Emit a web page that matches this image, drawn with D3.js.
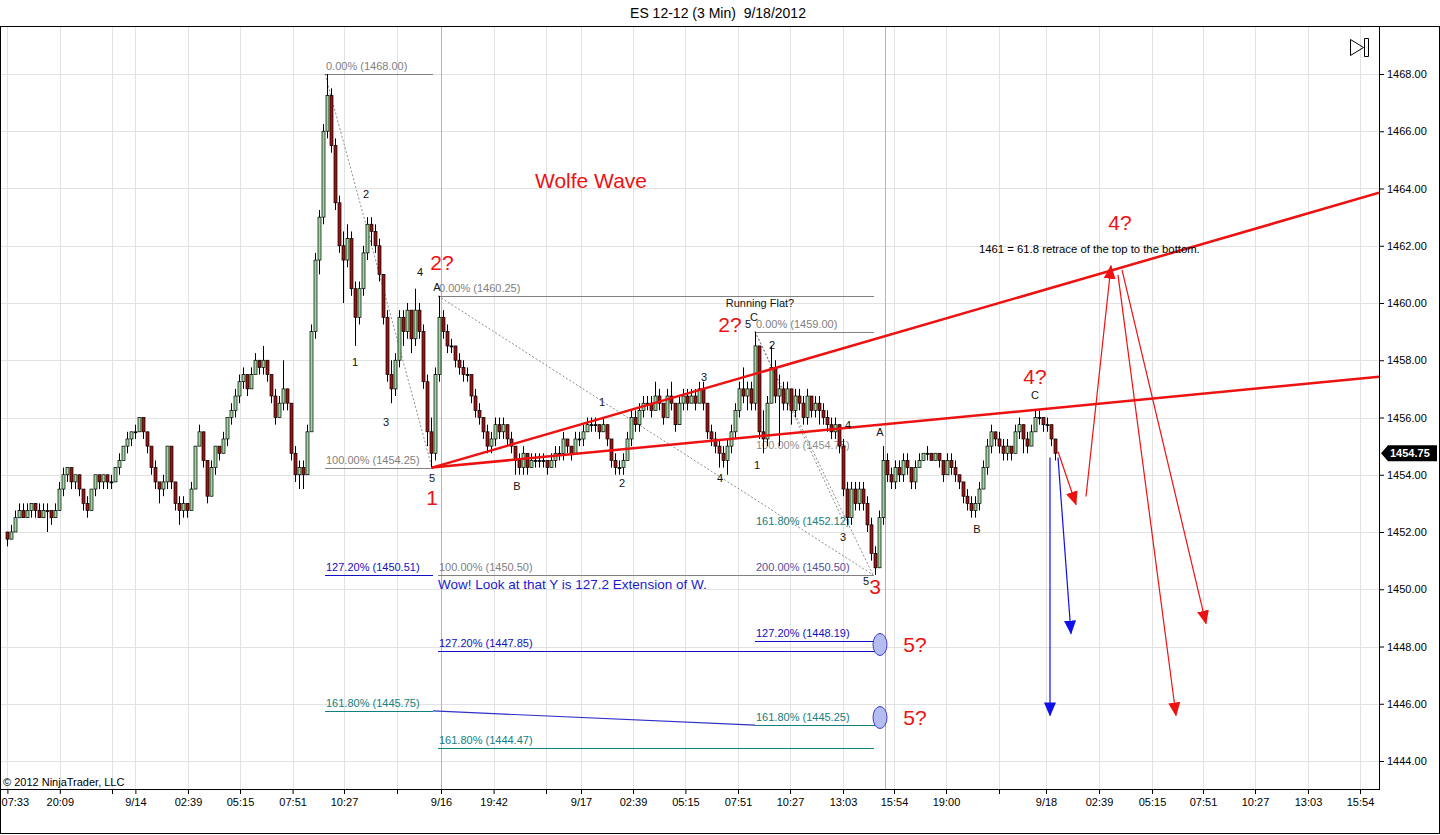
<!DOCTYPE html>
<html>
<head>
<meta charset="utf-8">
<title>ES 12-12 (3 Min) 9/18/2012</title>
<script src="https://cdn.jsdelivr.net/npm/d3@7"></script>
<style>
body { margin: 0; background: #fff; }
svg { display: block; font-family: "Liberation Sans", Arial, sans-serif; }
.axis path.domain { display: none; }
.axis text { font-size: 11px; fill: #000; }
.axis line { stroke: #000; }
</style>
</head>
<body>
<svg width="1440" height="835"></svg>
<script>
// 3 min bars, [open, high, low, close]
var bars = [
 [1452.0,1452.0,1451.5,1451.75],[1451.75,1452.25,1451.75,1452.0],[1452.0,1452.75,1452.0,1452.5],[1452.5,1453.0,1452.5,1452.75],
 [1452.75,1453.0,1452.5,1452.5],[1452.5,1453.0,1452.5,1452.75],[1452.75,1453.0,1452.5,1453.0],[1453.0,1453.0,1452.5,1452.75],
 [1452.75,1453.0,1452.5,1452.5],[1452.5,1453.0,1452.5,1452.75],[1452.75,1453.0,1452.0,1452.75],[1452.75,1452.75,1452.25,1452.5],
 [1452.5,1453.0,1452.5,1452.75],[1452.75,1453.75,1452.75,1453.5],[1453.5,1454.25,1453.25,1454.0],[1454.0,1454.25,1453.75,1454.25],
 [1454.25,1454.25,1453.5,1453.75],[1453.75,1454.0,1453.5,1454.0],[1454.0,1454.0,1453.25,1453.5],[1453.5,1453.5,1452.75,1453.0],
 [1453.0,1453.25,1452.5,1452.75],[1452.75,1453.5,1452.75,1453.5],[1453.5,1454.0,1453.25,1454.0],[1454.0,1454.0,1453.5,1453.75],
 [1453.75,1454.0,1453.5,1454.0],[1454.0,1454.0,1453.5,1453.75],[1453.75,1454.0,1453.5,1453.75],[1453.75,1454.25,1453.75,1454.25],
 [1454.25,1454.75,1454.0,1454.5],[1454.5,1455.0,1454.5,1455.0],[1455.0,1455.5,1454.75,1455.25],[1455.25,1455.5,1455.0,1455.5],
 [1455.5,1455.75,1455.25,1455.5],[1455.5,1456.0,1455.5,1456.0],[1456.0,1456.0,1455.25,1455.5],[1455.5,1455.5,1454.75,1455.0],
 [1455.0,1455.0,1454.0,1454.25],[1454.25,1454.5,1453.5,1453.75],[1453.75,1453.75,1453.0,1453.5],[1453.5,1454.0,1453.25,1453.75],
 [1453.75,1455.0,1453.5,1455.0],[1455.0,1455.0,1453.5,1453.75],[1453.75,1453.75,1452.75,1453.0],[1453.0,1453.25,1452.25,1452.75],
 [1452.75,1453.25,1452.5,1453.0],[1453.0,1453.0,1452.5,1452.75],[1452.75,1453.75,1452.75,1453.5],[1453.5,1455.0,1453.5,1455.0],
 [1455.0,1455.75,1455.0,1455.5],[1455.5,1455.5,1454.25,1454.5],[1454.5,1454.5,1453.0,1453.25],[1453.25,1454.5,1453.25,1454.25],
 [1454.25,1455.0,1454.0,1455.0],[1455.0,1455.0,1454.5,1454.75],[1454.75,1455.5,1454.75,1455.25],[1455.25,1456.0,1455.0,1456.0],
 [1456.0,1456.5,1455.75,1456.25],[1456.25,1457.0,1456.0,1456.75],[1456.75,1457.5,1456.5,1457.25],[1457.25,1457.75,1457.0,1457.5],
 [1457.5,1457.5,1456.75,1457.0],[1457.0,1457.75,1457.0,1457.5],[1457.5,1458.25,1457.5,1458.0],[1458.0,1458.0,1457.5,1457.75],
 [1457.75,1458.5,1457.5,1458.0],[1458.0,1458.0,1457.25,1457.5],[1457.5,1457.5,1456.5,1456.75],[1456.75,1457.0,1455.75,1456.0],
 [1456.0,1456.75,1456.0,1456.5],[1456.5,1458.0,1456.25,1457.0],[1457.0,1457.0,1456.25,1456.5],[1456.5,1456.5,1454.5,1454.75],
 [1454.75,1455.0,1453.75,1454.0],[1454.0,1454.5,1453.5,1454.25],[1454.25,1454.5,1453.5,1454.0],[1454.0,1455.75,1454.0,1455.5],
 [1455.5,1459.25,1455.5,1459.0],[1459.0,1461.75,1458.75,1461.5],[1461.5,1463.25,1461.0,1463.0],[1463.0,1466.25,1462.75,1466.0],
 [1466.0,1468.0,1465.75,1467.25],[1467.25,1467.5,1465.25,1465.5],[1465.5,1465.75,1463.25,1463.5],[1463.5,1463.75,1461.75,1462.0],
 [1462.0,1462.5,1460.0,1461.5],[1461.5,1462.75,1461.25,1462.25],[1462.25,1462.5,1460.25,1460.5],[1460.5,1460.75,1458.5,1459.5],
 [1459.5,1460.75,1459.25,1460.5],[1460.5,1462.0,1460.25,1461.75],[1461.75,1463.0,1461.5,1462.75],[1462.75,1463.0,1462.0,1462.5],
 [1462.5,1462.75,1461.75,1462.0],[1462.0,1462.25,1460.75,1461.0],[1461.0,1461.0,1459.25,1459.5],[1459.5,1459.75,1457.25,1457.5],
 [1457.5,1458.0,1456.5,1457.0],[1457.0,1458.25,1456.75,1458.0],[1458.0,1459.75,1457.75,1459.5],[1459.5,1459.75,1458.5,1459.0],
 [1459.0,1460.0,1458.75,1459.75],[1459.75,1459.75,1458.25,1458.75],[1458.75,1460.5,1458.5,1459.75],[1459.75,1460.0,1458.75,1459.0],
 [1459.0,1459.25,1457.0,1457.25],[1457.25,1457.5,1455.0,1455.5],[1455.5,1456.0,1454.25,1454.75],[1454.75,1457.75,1454.5,1457.5],
 [1457.5,1460.25,1457.25,1459.5],[1459.5,1459.75,1458.75,1459.0],[1459.0,1459.25,1458.25,1458.5],[1458.5,1458.75,1458.25,1458.5],
 [1458.5,1458.5,1457.75,1458.0],[1458.0,1458.25,1457.5,1457.75],[1457.75,1458.0,1457.25,1457.5],[1457.5,1457.75,1457.25,1457.5],
 [1457.5,1457.5,1456.5,1456.75],[1456.75,1457.0,1456.0,1456.25],[1456.25,1456.5,1455.75,1456.0],[1456.0,1456.0,1455.25,1455.5],
 [1455.5,1455.75,1454.75,1455.0],[1455.0,1455.5,1454.75,1455.25],[1455.25,1456.0,1455.0,1455.75],[1455.75,1456.0,1455.25,1455.5],
 [1455.5,1456.0,1455.25,1455.75],[1455.75,1455.75,1455.0,1455.25],[1455.25,1455.5,1454.75,1455.0],[1455.0,1455.0,1454.0,1454.5],
 [1454.5,1454.75,1454.0,1454.25],[1454.25,1455.0,1454.0,1454.75],[1454.75,1454.75,1454.0,1454.25],[1454.25,1454.75,1454.25,1454.5],
 [1454.5,1454.75,1454.25,1454.5],[1454.5,1454.75,1454.25,1454.5],[1454.5,1454.75,1454.25,1454.5],[1454.5,1454.5,1454.0,1454.25],
 [1454.25,1454.75,1454.25,1454.5],[1454.5,1455.0,1454.25,1454.75],[1454.75,1455.0,1454.5,1454.75],[1454.75,1455.5,1454.5,1455.25],
 [1455.25,1455.25,1454.75,1455.0],[1455.0,1455.0,1454.5,1454.75],[1454.75,1455.5,1454.75,1455.25],[1455.25,1455.5,1455.0,1455.25],
 [1455.25,1455.75,1455.0,1455.5],[1455.5,1456.0,1455.5,1455.75],[1455.75,1456.0,1455.5,1455.75],[1455.75,1456.0,1455.5,1455.75],
 [1455.75,1455.75,1455.25,1455.5],[1455.5,1456.0,1455.5,1455.75],[1455.75,1455.75,1455.0,1455.25],[1455.25,1455.25,1454.25,1454.5],
 [1454.5,1454.75,1454.0,1454.25],[1454.25,1454.5,1454.0,1454.25],[1454.25,1454.75,1454.0,1454.5],[1454.5,1455.5,1454.5,1455.25],
 [1455.25,1456.25,1455.0,1456.0],[1456.0,1456.25,1455.5,1455.75],[1455.75,1456.5,1455.5,1456.25],[1456.25,1456.75,1456.0,1456.5],
 [1456.5,1456.75,1456.25,1456.5],[1456.5,1456.75,1456.0,1456.25],[1456.25,1457.25,1456.25,1456.75],[1456.75,1457.0,1456.25,1456.5],
 [1456.5,1456.5,1455.75,1456.0],[1456.0,1457.0,1456.0,1456.75],[1456.75,1457.25,1456.25,1456.5],[1456.5,1456.5,1455.5,1455.75],
 [1455.75,1456.75,1455.75,1456.5],[1456.5,1457.0,1456.25,1456.75],[1456.75,1457.0,1456.25,1456.5],[1456.5,1457.0,1456.5,1456.75],
 [1456.75,1457.0,1456.25,1456.5],[1456.5,1457.25,1456.5,1457.0],[1457.0,1457.25,1456.25,1456.5],[1456.5,1456.5,1455.25,1455.5],
 [1455.5,1455.75,1455.0,1455.25],[1455.25,1455.5,1454.75,1455.0],[1455.0,1455.25,1454.25,1454.75],[1454.75,1455.0,1454.25,1454.5],
 [1454.5,1455.25,1454.0,1455.0],[1455.0,1455.75,1454.75,1455.5],[1455.5,1456.5,1455.25,1456.25],[1456.25,1457.25,1456.0,1457.0],
 [1457.0,1457.75,1456.5,1456.75],[1456.75,1457.25,1456.25,1457.0],[1457.0,1457.25,1456.25,1456.5],[1456.5,1459.0,1456.25,1458.5],
 [1458.5,1458.5,1455.25,1455.5],[1455.5,1456.25,1454.75,1455.25],[1455.25,1456.75,1455.0,1456.5],[1456.5,1458.5,1456.5,1457.75],
 [1457.75,1458.0,1456.5,1456.75],[1456.75,1457.5,1455.0,1457.0],[1457.0,1457.25,1456.25,1456.5],[1456.5,1457.25,1456.25,1457.0],
 [1457.0,1457.0,1455.75,1456.25],[1456.25,1457.0,1456.0,1456.75],[1456.75,1457.0,1456.25,1456.5],[1456.5,1456.75,1455.75,1456.0],
 [1456.0,1457.0,1455.75,1456.75],[1456.75,1456.75,1456.0,1456.25],[1456.25,1456.75,1456.0,1456.5],[1456.5,1456.75,1455.75,1456.25],
 [1456.25,1456.5,1455.75,1456.0],[1456.0,1456.25,1455.5,1455.75],[1455.75,1456.0,1455.25,1455.5],[1455.5,1456.0,1455.25,1455.75],
 [1455.75,1455.75,1454.75,1455.0],[1455.0,1455.25,1453.25,1453.5],[1453.5,1453.75,1452.25,1452.5],[1452.5,1453.75,1452.25,1453.5],
 [1453.5,1453.75,1452.75,1453.0],[1453.0,1453.75,1452.75,1453.5],[1453.5,1453.75,1452.75,1453.0],[1453.0,1453.25,1452.0,1452.25],
 [1452.25,1452.5,1451.0,1451.25],[1451.25,1451.5,1450.5,1450.75],[1450.75,1452.75,1450.75,1452.5],[1452.5,1455.0,1452.25,1454.5],
 [1454.5,1454.75,1453.75,1454.0],[1454.0,1454.25,1453.5,1453.75],[1453.75,1454.5,1453.5,1454.25],[1454.25,1454.5,1453.75,1454.0],
 [1454.0,1454.75,1453.75,1454.5],[1454.5,1454.75,1454.0,1454.25],[1454.25,1454.25,1453.5,1453.75],[1453.75,1454.5,1453.5,1454.25],
 [1454.25,1454.75,1454.25,1454.5],[1454.5,1454.75,1454.5,1454.75],[1454.75,1455.0,1454.5,1454.75],[1454.75,1454.75,1454.5,1454.5],
 [1454.5,1454.75,1454.5,1454.75],[1454.75,1454.75,1454.25,1454.5],[1454.5,1454.5,1453.75,1454.0],[1454.0,1454.75,1454.0,1454.5],
 [1454.5,1454.75,1454.0,1454.25],[1454.25,1454.5,1453.75,1454.0],[1454.0,1454.0,1453.5,1453.75],[1453.75,1453.75,1453.0,1453.25],
 [1453.25,1453.5,1452.75,1453.0],[1453.0,1453.25,1452.5,1452.75],[1452.75,1453.25,1452.5,1453.0],[1453.0,1453.75,1452.75,1453.5],
 [1453.5,1454.5,1453.5,1454.25],[1454.25,1455.25,1454.0,1455.0],[1455.0,1455.75,1454.75,1455.5],[1455.5,1455.5,1455.0,1455.25],
 [1455.25,1455.5,1454.75,1455.0],[1455.0,1455.25,1454.5,1454.75],[1454.75,1455.25,1454.5,1455.0],[1455.0,1455.0,1454.5,1454.75],
 [1454.75,1455.75,1454.75,1455.5],[1455.5,1456.0,1455.25,1455.75],[1455.75,1455.75,1454.75,1455.25],[1455.25,1455.5,1454.75,1455.0],
 [1455.0,1455.75,1455.0,1455.5],[1455.5,1456.25,1455.5,1456.0],[1456.0,1456.25,1455.75,1456.0],[1456.0,1456.0,1455.5,1455.75],
 [1455.75,1456.0,1455.5,1455.75],[1455.75,1455.75,1455.0,1455.25],[1455.25,1455.25,1454.5,1454.75]
];
var lastPrice = 1454.75;

var yTicks = [1444, 1446, 1448, 1450, 1452, 1454, 1456, 1458, 1460, 1462, 1464, 1466, 1468];
var xTickBars = [0.1, 13.2, 26.25, 32.1, 45.25, 58.25, 71.4, 84.25, 97.5, 108.5, 121.65, 134.75, 143.5, 156.5,
                 169.6, 182.75, 195.75, 209, 221.75, 234.75, 248, 259.75, 273, 286.25, 299, 312, 325.25, 338.25];
var xTickLabels = ["07:33", "20:09", "", "9/14", "02:39", "05:15", "07:51", "10:27", "", "9/16", "19:42", "", "9/17", "02:39",
                   "05:15", "07:51", "10:27", "13:03", "15:54", "19:00", "", "9/18", "02:39", "05:15", "07:51", "10:27", "13:03", "15:54"];
var sessionBreaks = [108.5, 219.5];

// fibonacci levels: price, from bar, to bar, label, colour
var fibLevels = [
  [1468.00, 79.5, 106.5, "0.00% (1468.00)", "#808080"],
  [1454.25, 79.5, 106.5, "100.00% (1454.25)", "#808080"],
  [1450.51, 79.5, 106.5, "127.20% (1450.51)", "#1010c0"],
  [1445.75, 79.5, 106.5, "161.80% (1445.75)", "#108080"],
  [1460.25, 107.75, 216.75, "0.00% (1460.25)", "#808080"],
  [1450.50, 107.75, 216.75, "100.00% (1450.50)", "#808080"],
  [1447.85, 107.75, 217.75, "127.20% (1447.85)", "#1010c0"],
  [1444.47, 107.75, 216.75, "161.80% (1444.47)", "#108080"],
  [1459.00, 187, 216.75, "0.00% (1459.00)", "#808080"],
  [1454.75, 187, 187, "100.00% (1454.75)", "#909090"],
  [1452.12, 187, 187, "161.80% (1452.12)", "#108080"],
  [1450.50, 187, 187, "200.00% (1450.50)", "#5050a0"],
  [1448.19, 187, 217.75, "127.20% (1448.19)", "#1010c0"],
  [1445.25, 187, 217.75, "161.80% (1445.25)", "#108080"]
];
// dotted retracement diagonals: [bar1, price1, bar2, price2]
var dottedLines = [
  [79.5, 1468.00, 106.25, 1454.25],
  [107.75, 1460.25, 216.5, 1450.50],
  [187, 1459.00, 216.5, 1450.50],
  [187, 1459.00, 209.5, 1452.25]
];
var blueSlope = [106.5, 1445.75, 187, 1445.25];
var wolfeLines = [
  [106.25, 1454.25, 343, 1463.85],
  [106.25, 1454.25, 343, 1457.42]
];
var redArrows = [
  [262.75, 1454.81, 267.25, 1452.96],
  [269.75, 1453.24, 276, 1461.30],
  [277.75, 1460.98, 292.25, 1445.59],
  [278.75, 1461.16, 299.75, 1448.80]
];
var blueArrows = [
  [260.75, 1454.60, 260.75, 1445.59],
  [262.75, 1454.60, 266, 1448.45]
];
var targetCircles = [[218.25, 1448.07], [218.25, 1445.52]];

var redLabels = [
  ["Wolfe Wave", 146, 1464.27], ["1", 106.25, 1453.20], ["2?", 108.75, 1461.40], ["2?", 180.75, 1459.24],
  ["3", 217, 1450.09], ["4?", 257, 1457.42], ["4?", 278.25, 1462.80], ["5?", 227, 1448.07], ["5?", 227, 1445.52]
];
var waveLabels = [
  ["5", 106.25, 1453.90], ["1", 87, 1457.95], ["2", 89.75, 1463.81], ["3", 94.75, 1455.85], ["4", 103.25, 1461.09],
  ["A", 107.5, 1460.57], ["B", 127.5, 1453.62], ["1", 148.75, 1456.55], ["2", 153.75, 1453.72], ["3", 174.25, 1457.42],
  ["4", 178.25, 1453.90], ["5", 185.25, 1459.27], ["C", 186.75, 1459.52], ["1", 187.5, 1454.35], ["2", 191.25, 1458.54],
  ["3", 209, 1451.84], ["4", 210.25, 1455.75], ["5", 214.75, 1450.30], ["A", 218.25, 1455.50], ["B", 242.5, 1452.12],
  ["C", 257, 1456.80], ["Running Flat?", 188.25, 1460.01]
];
var notes = [
  ["1461 = 61.8 retrace of the top to the bottom.", 243, 1461.89, "#000", 11.3],
  ["Wow! Look at that Y is 127.2 Extension of W.", 107.75, 1450.16, "#1a1ad0", 13.5]
];

var svg = d3.select("svg"),
    plot = {left: 1, top: 27, right: 1379, bottom: 789};

var xScale = d3.scaleLinear().domain([0, 343]).range([7, 1379]),
    yScale = d3.scaleLinear().domain([1444, 1468]).range([761, 74]);

svg.append("defs").append("clipPath").attr("id", "clip")
  .append("rect").attr("x", plot.left).attr("y", plot.top)
  .attr("width", plot.right - plot.left).attr("height", plot.bottom - plot.top);

["red", "blue"].forEach(function(c) {
  svg.select("defs").append("marker")
    .attr("id", "arr-" + c).attr("markerUnits", "userSpaceOnUse")
    .attr("markerWidth", 14).attr("markerHeight", 12).attr("refX", 13).attr("refY", 6)
    .attr("orient", "auto")
    .append("path").attr("d", "M0,0 L14,6 L0,12 Z").attr("fill", c == "red" ? "#ee1111" : "#1010ee");
});

// title
svg.append("text").attr("x", 718).attr("y", 18).attr("text-anchor", "middle")
  .style("font-size", "14px").style("white-space", "pre").text("ES 12-12 (3 Min)  9/18/2012");

// frame
svg.append("rect").attr("x", 0.5).attr("y", 26.5).attr("width", 1439).attr("height", 807)
  .attr("fill", "none").attr("stroke", "#000");

// grid
var grid = svg.append("g");
grid.selectAll(".hg").data(yTicks).enter().append("line")
  .attr("x1", plot.left).attr("x2", plot.right)
  .attr("y1", function(d) { return Math.round(yScale(d)) + 0.5; })
  .attr("y2", function(d) { return Math.round(yScale(d)) + 0.5; })
  .attr("stroke", "#e2e2e2");
grid.selectAll(".vg").data(xTickBars).enter().append("line")
  .attr("x1", function(d) { return Math.round(xScale(d)) + 0.5; })
  .attr("x2", function(d) { return Math.round(xScale(d)) + 0.5; })
  .attr("y1", plot.top).attr("y2", plot.bottom)
  .attr("stroke", "#e2e2e2");
grid.selectAll(".sb").data(sessionBreaks).enter().append("line")
  .attr("x1", function(d) { return Math.round(xScale(d)) + 0.5; })
  .attr("x2", function(d) { return Math.round(xScale(d)) + 0.5; })
  .attr("y1", plot.top).attr("y2", plot.bottom)
  .attr("stroke", "#b4b4b4");

// axes
svg.append("g").attr("class", "axis")
  .attr("transform", "translate(" + plot.right + ",0)")
  .call(d3.axisRight(yScale).tickValues(yTicks).tickSize(5).tickPadding(3).tickFormat(d3.format(".2f")));
var xAxis = svg.append("g").attr("class", "axis")
  .attr("transform", "translate(0," + plot.bottom + ")")
  .call(d3.axisBottom(xScale).tickValues(xTickBars).tickSize(5).tickPadding(4)
    .tickFormat(function(d, i) { return xTickLabels[i]; }));
// first label sits against the left border
xAxis.select(".tick text").attr("text-anchor", "start").attr("x", 1 - xScale(xTickBars[0]));
svg.append("line").attr("x1", plot.right + 0.5).attr("x2", plot.right + 0.5)
  .attr("y1", plot.top).attr("y2", plot.bottom).attr("stroke", "#000");
svg.append("line").attr("x1", 0).attr("x2", plot.right + 1)
  .attr("y1", plot.bottom + 0.5).attr("y2", plot.bottom + 0.5).attr("stroke", "#000");

var g = svg.append("g").attr("clip-path", "url(#clip)");

// fib lines and labels
g.selectAll(".fib").data(fibLevels.filter(function(d) { return d[2] > d[1]; })).enter().append("line")
  .attr("x1", function(d) { return xScale(d[1]); })
  .attr("x2", function(d) { return xScale(d[2]); })
  .attr("y1", function(d) { return Math.round(yScale(d[0])) + 0.5; })
  .attr("y2", function(d) { return Math.round(yScale(d[0])) + 0.5; })
  .attr("stroke", function(d) { return d[4]; }).attr("stroke-width", 1);
g.selectAll(".fibt").data(fibLevels).enter().append("text")
  .attr("x", function(d) { return xScale(d[1]) + 1; })
  .attr("y", function(d) { return yScale(d[0]) - 4; })
  .attr("fill", function(d) { return d[4]; })
  .style("font-size", "11px")
  .text(function(d) { return d[3]; });

g.selectAll(".dot").data(dottedLines).enter().append("line")
  .attr("x1", function(d) { return xScale(d[0]); }).attr("y1", function(d) { return yScale(d[1]); })
  .attr("x2", function(d) { return xScale(d[2]); }).attr("y2", function(d) { return yScale(d[3]); })
  .attr("stroke", "#707070").attr("stroke-width", 0.8).attr("stroke-dasharray", "2,2");

g.append("line")
  .attr("x1", xScale(blueSlope[0])).attr("y1", yScale(blueSlope[1]))
  .attr("x2", xScale(blueSlope[2])).attr("y2", yScale(blueSlope[3]))
  .attr("stroke", "#3030c8").attr("stroke-width", 1.2);

// candles
var candles = g.selectAll(".bar").data(bars).enter().append("g");
candles.append("line")
  .attr("x1", function(d, i) { return Math.round(xScale(i)) + 0.5; })
  .attr("x2", function(d, i) { return Math.round(xScale(i)) + 0.5; })
  .attr("y1", function(d) { return yScale(d[1]); })
  .attr("y2", function(d) { return yScale(d[2]); })
  .attr("stroke", "#000").attr("stroke-width", 1);
candles.append("rect")
  .attr("x", function(d, i) { return Math.round(xScale(i)) - 1; })
  .attr("width", 3)
  .attr("y", function(d) { return yScale(Math.max(d[0], d[3])); })
  .attr("height", function(d) { return Math.max(1, Math.abs(yScale(d[0]) - yScale(d[3]))); })
  .attr("fill", function(d) { return d[3] > d[0] ? "#9fd89f" : d[3] < d[0] ? "#9a1414" : "#000"; })
  .attr("stroke", "#000").attr("stroke-width", 0.7);

// wolfe wave lines
g.selectAll(".wolfe").data(wolfeLines).enter().append("line")
  .attr("x1", function(d) { return xScale(d[0]); }).attr("y1", function(d) { return yScale(d[1]); })
  .attr("x2", function(d) { return xScale(d[2]); }).attr("y2", function(d) { return yScale(d[3]); })
  .attr("stroke", "#ee1111").attr("stroke-width", 2.5);

g.selectAll(".rarr").data(redArrows).enter().append("line")
  .attr("x1", function(d) { return xScale(d[0]); }).attr("y1", function(d) { return yScale(d[1]); })
  .attr("x2", function(d) { return xScale(d[2]); }).attr("y2", function(d) { return yScale(d[3]); })
  .attr("stroke", "#ee1111").attr("stroke-width", 1.2).attr("marker-end", "url(#arr-red)");
g.selectAll(".barr").data(blueArrows).enter().append("line")
  .attr("x1", function(d) { return xScale(d[0]); }).attr("y1", function(d) { return yScale(d[1]); })
  .attr("x2", function(d) { return xScale(d[2]); }).attr("y2", function(d) { return yScale(d[3]); })
  .attr("stroke", "#1010ee").attr("stroke-width", 1.2).attr("marker-end", "url(#arr-blue)");

g.selectAll(".tc").data(targetCircles).enter().append("ellipse")
  .attr("cx", function(d) { return xScale(d[0]); }).attr("cy", function(d) { return yScale(d[1]); })
  .attr("rx", 7).attr("ry", 11)
  .attr("fill", "#b4bcf0").attr("stroke", "#3a3ad0").attr("stroke-width", 1);

// labels
g.selectAll(".rl").data(redLabels).enter().append("text")
  .attr("x", function(d) { return xScale(d[1]); }).attr("y", function(d) { return yScale(d[2]); })
  .attr("text-anchor", "middle").attr("dominant-baseline", "central")
  .attr("fill", "#ee1111").style("font-size", "21px")
  .text(function(d) { return d[0]; });
g.selectAll(".wl").data(waveLabels).enter().append("text")
  .attr("x", function(d) { return xScale(d[1]); }).attr("y", function(d) { return yScale(d[2]); })
  .attr("text-anchor", "middle").attr("dominant-baseline", "central")
  .attr("fill", "#111").style("font-size", "11px")
  .text(function(d) { return d[0]; });
g.selectAll(".note").data(notes).enter().append("text")
  .attr("x", function(d) { return xScale(d[1]); }).attr("y", function(d) { return yScale(d[2]); })
  .attr("dominant-baseline", "central")
  .attr("fill", function(d) { return d[3]; }).style("font-size", function(d) { return d[4] + "px"; })
  .text(function(d) { return d[0]; });

// last price marker
var ly = yScale(lastPrice);
svg.append("path")
  .attr("d", "M" + (plot.right + 2) + "," + ly + " L" + (plot.right + 9) + "," + (ly - 8) +
             " H1437 V" + (ly + 8) + " H" + (plot.right + 9) + " Z")
  .attr("fill", "#000");
svg.append("text").attr("x", plot.right + 11).attr("y", ly).attr("dominant-baseline", "central")
  .attr("fill", "#fff").style("font-size", "11px").style("font-weight", "bold").text(d3.format(".2f")(lastPrice));

// navigation icon
svg.append("path").attr("d", "M1350.5,39.5 L1363.5,47.5 L1350.5,55.5 Z M1364.5,38.5 h4 v18 h-4 Z")
  .attr("fill", "none").attr("stroke", "#000");

svg.append("text").attr("x", 3).attr("y", 786).style("font-size", "11px").text("\u00a9 2012 NinjaTrader, LLC");
</script>
</body>
</html>
